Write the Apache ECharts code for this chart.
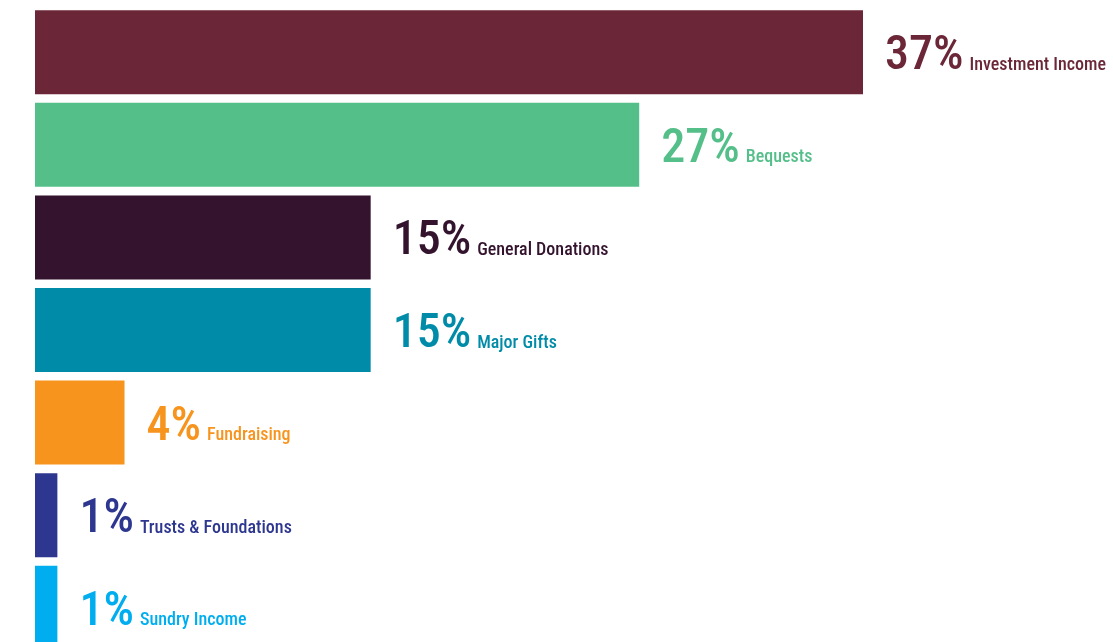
<!DOCTYPE html>
<html><head><meta charset="utf-8">
<script src="https://cdn.jsdelivr.net/npm/echarts@6/dist/echarts.min.js"></script>
<style>html,body{margin:0;padding:0;background:#fff}#c{width:1113px;height:642px}</style>
</head><body><div id="c"></div>
<script>
const categories = ["Investment Income","Bequests","General Donations","Major Gifts","Fundraising","Trusts & Foundations","Sundry Income"];
const values = [37,27,15,15,4,1,1];
const colors = ["#6B2737","#55BF8A","#33132D","#008CA8","#F7941E","#2E3790","#00AEEF"];
const FONT = '"Roboto Condensed","Liberation Sans Narrow","DejaVu Sans Condensed",sans-serif';
const chart = echarts.init(document.getElementById('c'));
chart.setOption({
  animation:false,
  grid:{left:35,top:6,width:828,height:648,containLabel:false,outerBoundsMode:'none'},
  xAxis:{type:'value',min:0,max:37,show:false},
  yAxis:{type:'category',data:categories,inverse:true,axisLine:{show:false},axisTick:{show:false},axisLabel:{show:false},splitLine:{show:false}},
  series:[{
    type:'bar',barWidth:84,
    data:values.map((v,i)=>({value:v,itemStyle:{color:colors[i]},
      label:{show:true,position:'right',distance:22,offset:[0,5],
        formatter:'{p|'+v+'%}{n|'+categories[i]+'}',
        rich:{p:{fontFamily:FONT,fontSize:48,fontWeight:500,color:colors[i],lineHeight:48,verticalAlign:'bottom'},
              n:{fontFamily:FONT,fontSize:18,fontWeight:500,color:colors[i],lineHeight:24,verticalAlign:'bottom',padding:[0,0,7,6]}}}}))
  }]
});
</script></body></html>
